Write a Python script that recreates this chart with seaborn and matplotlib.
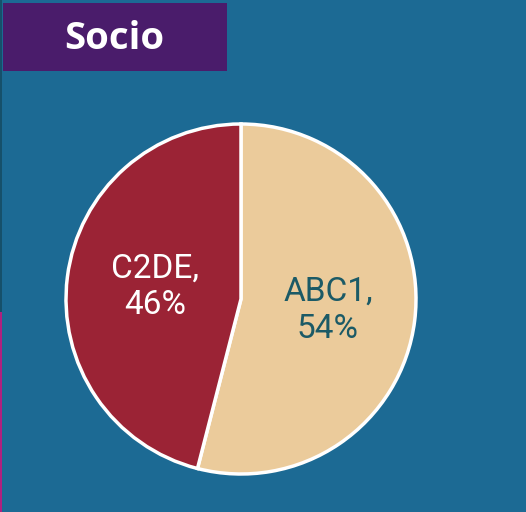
import matplotlib
matplotlib.use("Agg")
import matplotlib.pyplot as plt
import seaborn as sns
from matplotlib.patches import Rectangle

categories = ["ABC1", "C2DE"]
values = [54, 46]
colors = ["#ebcb9b", "#9b2335"]
label_colors = ["#1b5a66", "#ffffff"]
title = "Socio"

sns.set_theme(style="white")
plt.rcParams['font.family'] = ['Open Sans', 'DejaVu Sans']

W, H = 526, 512
fig = plt.figure(figsize=(W / 100, H / 100), dpi=100)
bg = "#1c6a94"
fig.patch.set_facecolor(bg)
ax = fig.add_axes([0, 0, 1, 1])
ax.set_facecolor(bg)
ax.set_xlim(0, W)
ax.set_ylim(0, H)
ax.axis("off")

cx, cy, r = 241, H - 299, 175
wedges, _ = ax.pie(values, colors=colors, startangle=90, counterclock=False,
                   center=(cx, cy), radius=r,
                   wedgeprops=dict(edgecolor="white", linewidth=2.5))
ax.set_xlim(0, W)
ax.set_ylim(0, H)
ax.set_aspect("auto")

label_pos = [(328, H - 310), (155, H - 287)]
for (x, y), cat, v, c in zip(label_pos, categories, values, label_colors):
    ax.text(x, y, f"{cat},\n{v}%", ha="center", va="center", color=c,
            fontsize=24, linespacing=1.2, family=['Roboto', 'DejaVu Sans'])

ax.add_patch(Rectangle((3, H - 71), 224, 68, facecolor="#4a1c6b", edgecolor="none"))
ax.text(114, H - 39, title, ha="center", va="center", color="white",
        fontsize=27.5, fontweight="bold")

# thin left edge strip
ax.add_patch(Rectangle((0, 0), 2, H, facecolor="#16506a", edgecolor="none"))
ax.add_patch(Rectangle((0, 0), 2, 200, facecolor="#b0207f", edgecolor="none"))

fig.savefig("out.png", dpi=100, facecolor=bg)
